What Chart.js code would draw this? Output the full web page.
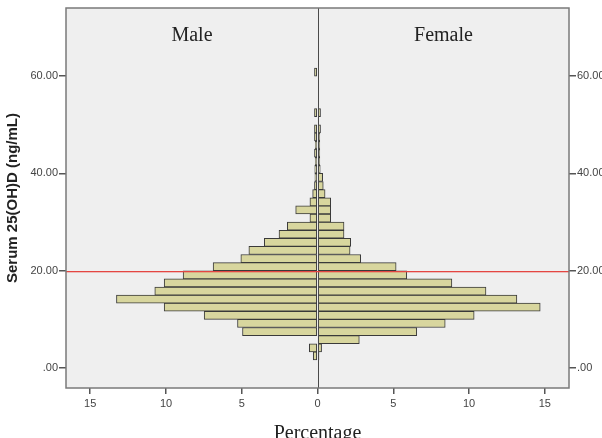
<!DOCTYPE html>
<html>
<head>
<meta charset="utf-8">
<script src="https://cdn.jsdelivr.net/npm/chart.js@4.4.0/dist/chart.umd.min.js"></script>
<style>
  html, body { margin: 0; padding: 0; background: #fff; }
  #wrap { width: 602px; height: 438px; }
</style>
</head>
<body>
<div id="wrap"><canvas id="chart" width="602" height="438"></canvas></div>
<script>
// bin midpoints of serum 25(OH)D (ng/mL)
const binMid = [2.50, 4.17, 5.83, 7.50, 9.17, 10.83, 12.50, 14.17, 15.83, 17.50,
                19.17, 20.83, 22.50, 24.17, 25.83, 27.50, 29.17, 30.83, 32.50, 34.17,
                35.83, 37.50, 39.17, 40.83, 42.50, 44.17, 45.83, 47.50, 49.17, 50.83,
                52.50, 54.17, 55.83, 57.50, 59.17, 60.83];
// percentage per bin
const male = [0.28, 0.54, null, 4.95, 5.28, 7.48, 10.12, 13.27, 10.74, 10.12,
              8.87, 6.89, 5.06, 4.53, 3.51, 2.54, 1.99, 0.50, 1.44, 0.50,
              0.32, 0.20, 0.17, 0.18, 0.15, 0.2, 0.15, 0.2, 0.2, null,
              0.2, null, null, null, null, 0.2];
const female = [0.10, 0.27, 2.76, 6.55, 8.43, 10.34, 14.70, 13.16, 11.12, 8.87,
                5.89, 5.19, 2.85, 2.15, 2.19, 1.75, 1.75, 0.87, 0.87, 0.87,
                0.50, 0.38, 0.34, 0.18, 0.15, 0.15, 0.15, 0.15, 0.2, null,
                0.2, null, null, null, null, null];
const xTicks = [-15, -10, -5, 0, 5, 10, 15];
const yTicks = [0, 20, 40, 60];
const cutoff = 20;
const sexLabels = ['Male', 'Female'];

const barFill = '#d8d69e';
const barLine = '#3a3a3a';
const cutoffColor = 'rgb(228, 70, 66)';
const tickFont = { family: 'Liberation Sans, Arial, sans-serif', size: 11 };

const decorations = {
    id: 'decorations',
    beforeDraw(chart) {
        const { ctx, chartArea: a } = chart;
        ctx.save();
        ctx.fillStyle = '#efefef';
        ctx.fillRect(a.left, a.top, a.width, a.height);
        ctx.restore();
    },
    afterDatasetsDraw(chart) {
        const { ctx, chartArea: a, scales } = chart;
        const x0 = Math.round(scales.x.getPixelForValue(0));
        const yc = Math.round(scales.y.getPixelForValue(cutoff));
        ctx.save();
        // centre line
        ctx.fillStyle = '#4a4a4a';
        ctx.fillRect(x0, a.top, 1, a.height);
        // cut-off line
        ctx.fillStyle = cutoffColor;
        ctx.fillRect(a.left, yc, a.width, 1.3);
        // frame
        ctx.strokeStyle = '#7a7a7a';
        ctx.lineWidth = 1.5;
        ctx.strokeRect(a.left, a.top, a.width, a.height);
        // sex labels
        ctx.fillStyle = '#222';
        ctx.font = '20px "Liberation Serif", "Times New Roman", serif';
        ctx.textAlign = 'center';
        ctx.textBaseline = 'alphabetic';
        ctx.fillText(sexLabels[0], (a.left + x0) / 2, a.top + 33);
        ctx.fillText(sexLabels[1], (x0 + a.right) / 2, a.top + 33);
        ctx.restore();
    }
};

const yAxis = (pos, width) => ({
    type: 'linear',
    position: pos,
    min: -4.1,
    max: 74,
    offset: false,
    afterBuildTicks: s => { s.ticks = yTicks.map(v => ({ value: v })); },
    afterFit: s => { s.width = width; },
    grid: { display: true, offset: false, drawOnChartArea: false, drawTicks: true, tickLength: 7, color: '#555', lineWidth: 1.5 },
    border: { display: false },
    ticks: {
        autoSkip: false,
        padding: 1,
        font: tickFont,
        color: '#444',
        callback: v => v === 0 ? '.00' : v.toFixed(2)
    }
});

const leftAxis = yAxis('left', 66);
leftAxis.title = {
    display: true,
    text: 'Serum 25(OH)D (ng/mL)',
    font: { family: 'Liberation Sans, Arial, sans-serif', size: 15, weight: 'bold' },
    color: '#222',
    padding: { top: 4, bottom: 0 }
};

const barStyle = {
    grouped: false,
    barPercentage: 1,
    categoryPercentage: 1,
    backgroundColor: barFill,
    borderColor: barLine,
    borderWidth: 1,
    borderSkipped: false
};

new Chart(document.getElementById('chart'), {
    type: 'bar',
    data: {
        datasets: [
            Object.assign({
                label: sexLabels[0],
                data: binMid.map((m, i) => ({ x: male[i] == null ? null : -male[i], y: m }))
            }, barStyle),
            Object.assign({
                label: sexLabels[1],
                data: binMid.map((m, i) => ({ x: female[i], y: m }))
            }, barStyle)
        ]
    },
    options: {
        indexAxis: 'y',
        responsive: false,
        animation: false,
        layout: { padding: { top: 8, left: 0, right: 0, bottom: 0 } },
        plugins: {
            legend: { display: false },
            tooltip: { enabled: false }
        },
        scales: {
            x: {
                type: 'linear',
                min: -16.6,
                max: 16.6,
                afterBuildTicks: s => { s.ticks = xTicks.map(v => ({ value: v })); },
                afterFit: s => { s.height = 50; },
                grid: { display: true, drawOnChartArea: false, drawTicks: true, tickLength: 6, color: '#555', lineWidth: 1.5 },
                border: { display: false },
                ticks: {
                    autoSkip: false,
                    maxRotation: 0,
                    padding: 3,
                    font: tickFont,
                    color: '#444',
                    callback: v => Math.abs(v)
                },
                title: {
                    display: true,
                    text: 'Percentage',
                    font: { family: 'Liberation Serif, Times New Roman, serif', size: 20 },
                    color: '#222',
                    padding: { top: 0, bottom: -8 }
                }
            },
            y: leftAxis,
            y2: yAxis('right', 33)
        }
    },
    plugins: [decorations]
});
</script>
</body>
</html>
